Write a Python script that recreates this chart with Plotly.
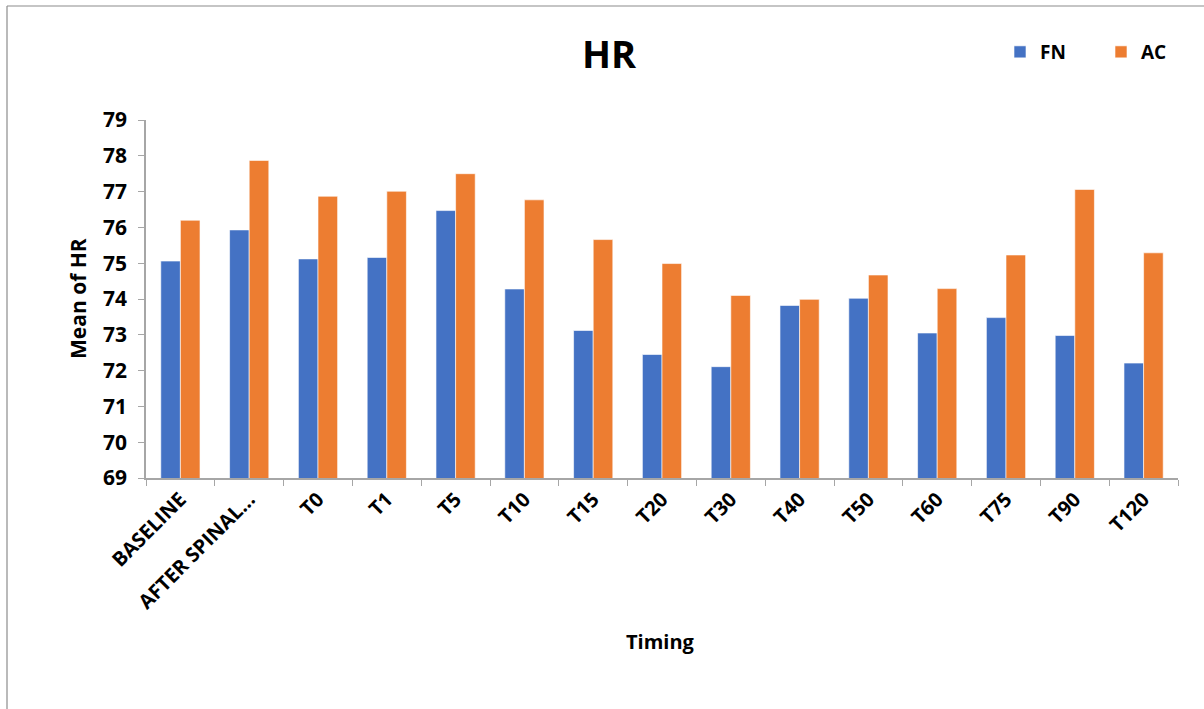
import plotly.graph_objects as go

# Mean heart rate at each timing point for the two groups
timings = ["BASELINE", "AFTER SPINAL...", "T0", "T1", "T5", "T10", "T15", "T20",
           "T30", "T40", "T50", "T60", "T75", "T90", "T120"]
fn_values = [75.06, 75.93, 75.12, 75.16, 76.47, 74.28, 73.12, 72.45,
             72.11, 73.82, 74.02, 73.05, 73.48, 72.98, 72.21]
ac_values = [76.20, 77.87, 76.87, 77.01, 77.50, 76.77, 75.66, 74.99,
             74.10, 73.99, 74.67, 74.29, 75.23, 77.06, 75.29]
y_ticks = list(range(69, 80))

FONT = "Open Sans"
W, H = 1204, 709
ML, MR, MT, MB = 146, 26, 120, 231
pw, ph = W - ML - MR, H - MT - MB


def px_x(x):
    return (x - ML) / pw


def px_y(y):
    return (H - MB - y) / ph


fig = go.Figure()
fig.add_trace(go.Bar(name="FN", x=timings, y=fn_values,
                     marker=dict(color="#4472C4", line=dict(color="white", width=0.6))))
fig.add_trace(go.Bar(name="AC", x=timings, y=ac_values,
                     marker=dict(color="#ED7D31", line=dict(color="white", width=0.6))))

# top and left edges of the chart frame
frame = dict(color="#8c8c8c", width=1.2)
fig.add_shape(type="line", xref="paper", yref="paper",
              x0=px_x(7), x1=px_x(W + 5), y0=px_y(6), y1=px_y(6), line=frame, layer="below")
fig.add_shape(type="line", xref="paper", yref="paper",
              x0=px_x(7), x1=px_x(7), y0=px_y(6), y1=px_y(H + 5), line=frame, layer="below")

# axis titles
fig.add_annotation(text="<b>Timing</b>", xref="paper", yref="paper", x=px_x(660), y=0,
                   yshift=-(641 - (H - MB)), xanchor="center", yanchor="middle", showarrow=False,
                   font=dict(family=FONT, size=20, color="black"))
fig.add_annotation(text="<b>Mean of HR</b>", xref="paper", yref="paper", x=0, y=0.5,
                   xshift=-(ML - 78), xanchor="center", yanchor="middle", textangle=-90,
                   showarrow=False, font=dict(family=FONT, size=21, color="black"))

fig.update_layout(
    width=W, height=H,
    margin=dict(l=ML, r=MR, t=MT, b=MB, autoexpand=False),
    paper_bgcolor="white", plot_bgcolor="white",
    barmode="group", bargap=0.43, bargroupgap=0,
    title=dict(text="<b>HR</b>", x=609 / W, xanchor="center", y=1 - 55 / H, yanchor="middle",
               font=dict(family=FONT, size=38, color="black")),
    legend=dict(orientation="h", x=px_x(1000), xanchor="left",
                y=px_y(52), yanchor="middle",
                font=dict(family=FONT, size=19, color="black", weight="bold"),
                itemwidth=30, entrywidth=56, traceorder="normal", bgcolor="rgba(0,0,0,0)"),
    showlegend=True,
    font=dict(family=FONT, color="black"),
)
fig.update_xaxes(
    type="category", showline=True, linecolor="#a6a6a6", linewidth=1.5,
    ticks="outside", tickson="boundaries", ticklen=6, tickcolor="#a6a6a6",
    tickangle=-45, tickfont=dict(family=FONT, size=20, color="black", weight="bold"),
    showgrid=False,
)
fig.update_yaxes(
    range=[69, 79], tickvals=y_ticks, showline=True, linecolor="#a6a6a6", linewidth=1.5,
    ticks="outside", ticklen=6, tickcolor="#a6a6a6",
    tickfont=dict(family=FONT, size=21, color="black", weight="bold"),
    ticklabelstandoff=7,
    showgrid=False, zeroline=False,
)

fig.write_html("out.html")
